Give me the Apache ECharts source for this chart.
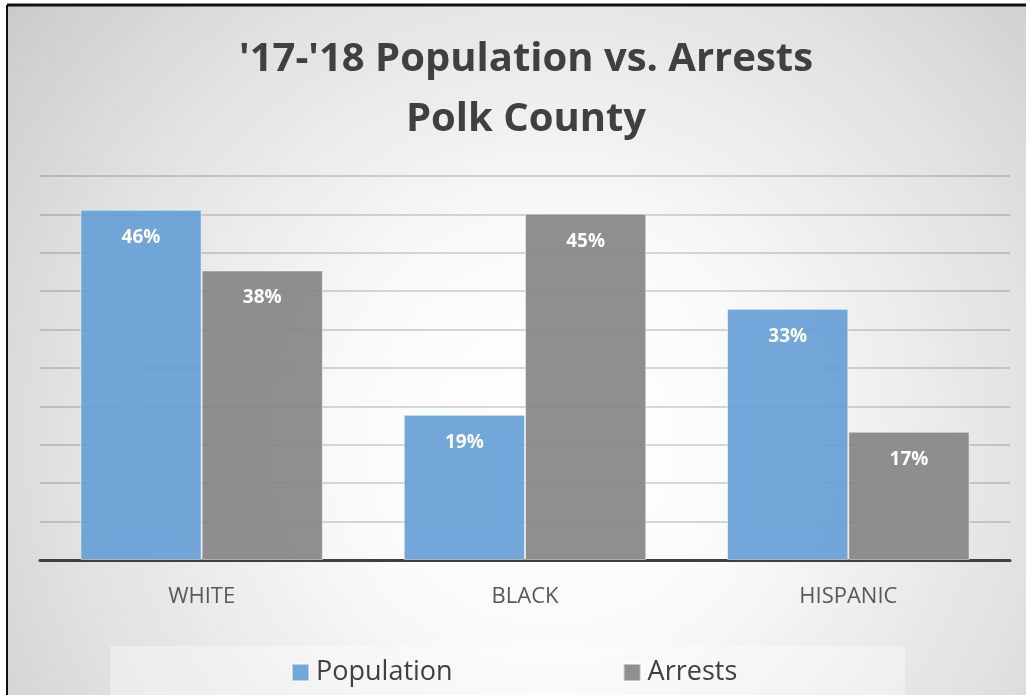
<!DOCTYPE html>
<html><head><meta charset="utf-8">
<script src="https://cdn.jsdelivr.net/npm/echarts@6/dist/echarts.min.js"></script>
<style>html,body{margin:0;padding:0;background:#fff;}#c{width:1026px;height:695px;}</style>
</head><body><div id="c"></div>
<script>
const categories = ['WHITE', 'BLACK', 'HISPANIC'];
const population = [45.6, 18.9, 32.7];
const arrests = [37.7, 45.1, 16.7];
const seriesNames = ['Population', 'Arrests'];
const titleLines = ["'17-'18 Population vs. Arrests", 'Polk County'];

const chart = echarts.init(document.getElementById('c'), null, {renderer: 'canvas'});
const FONT = "'Open Sans', 'Liberation Sans', sans-serif";
const labelCfg = {
  show: true, position: 'insideTop', distance: 18,
  formatter: p => Math.round(p.value) + '%',
  color: '#fff', fontWeight: 'bold', fontSize: 19, fontFamily: FONT
};
chart.setOption({
  backgroundColor: '#fff',
  animation: false,
  graphic: [
    {type: 'rect', z: -10, silent: true, shape: {x: 7, y: 5, width: 1030, height: 700},
     style: {fill: {type: 'radial', x: 0.53, y: 0.62, r: 1.0,
       colorStops: [{offset: 0, color: '#ffffff'}, {offset: 0.3, color: '#fafafa'}, {offset: 0.72, color: '#e0e0e0'}, {offset: 1, color: '#cacaca'}]}}},
    {type: 'line', z: 100, silent: true, shape: {x1: 7, y1: 5, x2: 1026, y2: 5}, style: {stroke: '#111', lineWidth: 3}},
    {type: 'line', z: 100, silent: true, shape: {x1: 7, y1: 5, x2: 7, y2: 695}, style: {stroke: '#111', lineWidth: 2}},
    {type: 'rect', z: -5, silent: true, shape: {x: 110, y: 646, width: 795, height: 60},
     style: {fill: 'rgba(255,255,255,0.35)'}},
    {type: 'text', z: 10, x: 526, y: 30,
     style: {text: titleLines.join('\n'), textAlign: 'center', fill: '#404040',
       font: "bold 40px " + FONT, lineHeight: 60}}
  ],
  grid: {left: 40, right: 16, top: 176, bottom: 135},
  legend: {
    data: seriesNames, left: 286, top: 654, itemWidth: 17, itemHeight: 17, itemGap: 170,
    icon: 'rect',
    textStyle: {fontSize: 27, color: '#404040', fontFamily: FONT, padding: [0, 0, 0, 2]}
  },
  xAxis: {
    type: 'category', data: categories,
    axisLine: {lineStyle: {color: '#404040', width: 3}},
    axisTick: {show: false},
    axisLabel: {color: '#595959', fontSize: 22, fontFamily: FONT, margin: 26}
  },
  yAxis: {
    type: 'value', min: 0, max: 50, interval: 5,
    axisLabel: {show: false}, axisLine: {show: false}, axisTick: {show: false},
    splitLine: {lineStyle: {color: 'rgba(0,0,0,0.15)', width: 2}}
  },
  series: [
    {name: seriesNames[0], type: 'bar', data: population, barGap: '0%', barCategoryGap: '25%',
     itemStyle: {color: 'rgba(103,160,214,0.92)', borderColor: 'rgba(255,255,255,0.5)', borderWidth: 1},
     label: labelCfg},
    {name: seriesNames[1], type: 'bar', data: arrests, barGap: '0%', barCategoryGap: '25%',
     itemStyle: {color: 'rgba(133,133,133,0.92)', borderColor: 'rgba(255,255,255,0.5)', borderWidth: 1},
     label: labelCfg}
  ]
});
</script></body></html>
